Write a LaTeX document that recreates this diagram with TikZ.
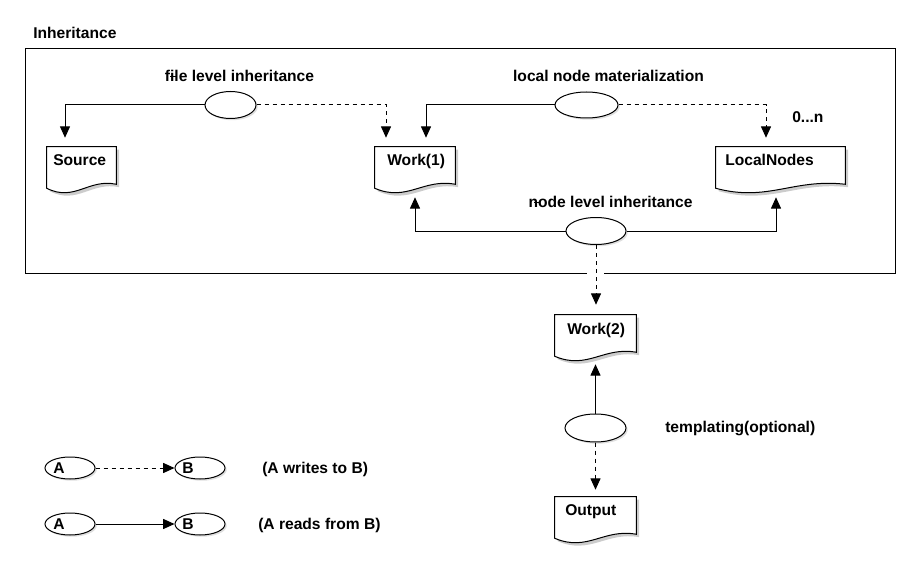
\documentclass[tikz,border=0pt]{standalone}
\usepackage{fontspec}
\setmainfont{Liberation Sans}
\usetikzlibrary{shapes.geometric,arrows.meta,calc,shadows}
\tikzset{
  lbl/.style={font=\bfseries\fontsize{11.7pt}{14pt}\selectfont, inner sep=0pt},
  ell/.style={ellipse, draw, fill=white, inner sep=0pt, line width=0.75pt,
    drop shadow={shadow xshift=1.3pt, shadow yshift=-1.3pt, opacity=0.25}},
  docbox/.style={rectangle, inner sep=0pt, draw=none, minimum height=30.75pt},
  docline/.style={draw=black, fill=white, line width=0.75pt},
  docshadow/.style={fill=black!20, transform canvas={xshift=2.2pt,yshift=-2.2pt}},
  rd/.style={line width=0.75pt, -{Triangle[length=8.5pt,width=7.5pt]}},
  wr/.style={rd, dash pattern=on 3pt off 3pt},
}
\newcommand\docshape[1]{%
  \fill[docshadow] (#1.north west) -- (#1.north east) -- ($(#1.south east)+(0,-4)$)
    .. controls ($(#1.south west)!0.6!(#1.south east)+(0,-10)$) and ($(#1.south west)!0.4!(#1.south east)+(0,14)$) .. (#1.south west) -- cycle;
  \path[docline] (#1.north west) -- (#1.north east) -- ($(#1.south east)+(0,-4)$)
    .. controls ($(#1.south west)!0.6!(#1.south east)+(0,-10)$) and ($(#1.south west)!0.4!(#1.south east)+(0,14)$) .. (#1.south west) -- cycle;
}
\begin{document}
\begin{tikzpicture}[x=0.75pt,y=-0.75pt]
\useasboundingbox (0,0) rectangle (920,574);

% frame
\node[draw, line width=0.75pt, rectangle, inner sep=0pt, minimum width=652.5pt, minimum height=168pt] (frame) at (460,161) {};
\fill[white] (587,268) rectangle (604,278);
\node[lbl, anchor=base west] (title) at (33,39) {Inheritance};

% documents
\node[docbox, minimum width=51.75pt] (src) at (81.5,167.5) {};
\node[docbox, minimum width=60pt] (w1) at (415,167.5) {};
\node[docbox, minimum width=96.75pt] (ln) at (780.5,167.5) {};
\node[docbox, minimum width=60.75pt] (w2) at (595.5,335.5) {};
\node[docbox, minimum width=60.75pt] (out) at (595.5,517.5) {};
\docshape{src}
\docshape{w1}
\docshape{ln}
\docshape{w2}
\docshape{out}
\node[lbl, anchor=base west] (srcT) at (53,166) {Source};
\node[lbl, anchor=base west] (w1T) at (387,166) {Work(1)};
\node[lbl, anchor=base west] (lnT) at (725,166) {LocalNodes};
\node[lbl, anchor=base west] (w2T) at (567,334) {Work(2)};
\node[lbl, anchor=base west] (outT) at (565,515) {Output};

% ellipses
\node[ell, minimum width=38.25pt, minimum height=20.25pt] (e1) at (230.5,105) {};
\node[ell, minimum width=47.25pt, minimum height=19.5pt] (e2) at (586.5,105) {};
\node[ell, minimum width=45pt, minimum height=20.25pt] (e3) at (596,231) {};
\node[ell, minimum width=45.75pt, minimum height=21pt] (e4) at (595.5,428) {};

% labels
\node[lbl, anchor=base] (l1) at (239.5,82) {file level inheritance};
\node[lbl, anchor=base] (l2) at (608.5,82) {local node materialization};
\node[lbl, anchor=base] (l3) at (610.5,207) {node level inheritance};
\node[lbl, anchor=base west] (l4) at (792,123) {0...n};
\node[lbl, anchor=base west] (l5) at (665,432) {templating(optional)};
\draw[line width=0.75pt] (170,77) -- (177,77);
\draw[line width=0.75pt] (534,202) -- (539,202);

% connector targets
\coordinate (srcin) at ($(src.north)+(-16.5,-9)$);
\coordinate (w1inA) at ($(w1.north)+(-29,-9)$);
\coordinate (w1inB) at ($(w1.north)+(11,-9)$);
\coordinate (lnin) at ($(ln.north)+(-14.5,-9)$);
\coordinate (w1out) at ($(w1.south)+(0,9)$);
\coordinate (lnout) at ($(ln.south)+(-4.5,9)$);
\coordinate (w2in) at ($(w2.north)+(0,-10)$);
\coordinate (w2out) at ($(w2.south)+(0,8)$);
\coordinate (outin) at ($(out.north)+(0,-7)$);

% connectors
\draw[rd] (e1.west) -| (srcin);
\draw[wr] (e1.east) -| (w1inA);
\draw[rd] (e2.west) -| (w1inB);
\draw[wr] (e2.east) -| (lnin);
\draw[rd] (e3.west) -| (w1out);
\draw[rd] (e3.east) -| (lnout);
\draw[wr] (e3.south) -- (e3.south |- w2in);
\draw[rd] (e4.north) -- (e4.north |- w2out);
\draw[wr] (e4.south) -- (e4.south |- outin);

% legend
\node[ell, minimum width=37.5pt, minimum height=16.5pt] (la1) at (70,468) {};
\node[ell, minimum width=37.5pt, minimum height=16.5pt] (lb1) at (200,468) {};
\node[ell, minimum width=37.5pt, minimum height=16.5pt] (la2) at (70,524) {};
\node[ell, minimum width=37.5pt, minimum height=16.5pt] (lb2) at (200,524) {};
\node[lbl, anchor=base west] (ta1) at (53,473) {A};
\node[lbl, anchor=base west] (tb1) at (182,473) {B};
\node[lbl, anchor=base west] (ta2) at (53,529) {A};
\node[lbl, anchor=base west] (tb2) at (182,529) {B};
\draw[wr] (la1.east) -- (lb1.west);
\draw[rd] (la2.east) -- (lb2.west);
\node[lbl, anchor=base west] (lw) at (262,473) {(A writes to B)};
\node[lbl, anchor=base west] (lr) at (258,529) {(A reads from B)};
\end{tikzpicture}
\end{document}
